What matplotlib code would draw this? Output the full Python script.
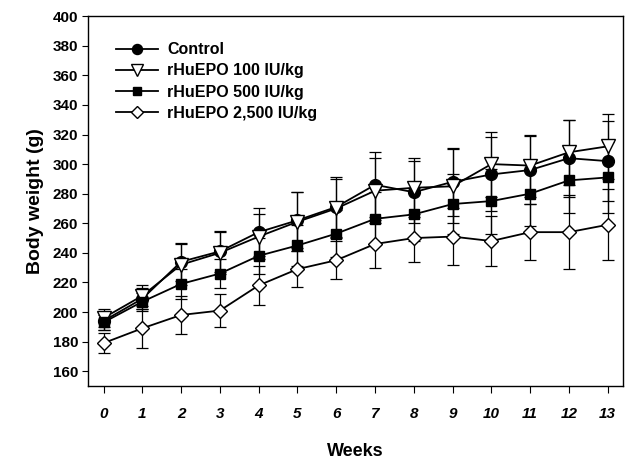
import matplotlib

matplotlib.use("Agg")
import matplotlib.pyplot as plt

plt.rcParams["font.family"] = ["Liberation Sans", "DejaVu Sans"]

weeks = list(range(14))

control = [194, 209, 234, 241, 254, 262, 271, 286, 281, 288, 293, 296, 304, 302]
control_sd = [6, 7, 13, 14, 16, 19, 20, 22, 21, 23, 25, 23, 26, 27]

epo100 = [196, 211, 232, 240, 251, 261, 270, 282, 284, 285, 300, 299, 308, 312]
epo100_sd = [6, 7, 14, 14, 15, 20, 20, 22, 20, 25, 22, 21, 22, 22]

epo500 = [193, 207, 219, 226, 238, 245, 253, 263, 266, 273, 275, 280, 289, 291]
epo500_sd = [5, 6, 10, 10, 12, 14, 16, 18, 18, 20, 22, 22, 22, 24]

epo2500 = [179, 189, 198, 201, 218, 229, 235, 246, 250, 251, 248, 254, 254, 259]
epo2500_sd = [7, 13, 13, 11, 13, 12, 13, 16, 16, 19, 17, 19, 25, 24]

labels = ["Control", "rHuEPO 100 IU/kg", "rHuEPO 500 IU/kg", "rHuEPO 2,500 IU/kg"]

fig = plt.figure(figsize=(6.26, 4.62), dpi=100)
ax = fig.add_axes([0.1406, 0.1645, 0.855, 0.8005])

series = [
    (control, control_sd, "o", "black", 8.5),
    (epo100, epo100_sd, "v", "white", 9.5),
    (epo500, epo500_sd, "s", "black", 7.5),
    (epo2500, epo2500_sd, "D", "white", 7.5),
]

for (vals, sd, mk, fc, ms), lab in zip(series, labels):
    ax.errorbar(
        weeks, vals, yerr=sd,
        fmt="none", ecolor="black", elinewidth=0.9, capsize=4, capthick=0.9,
        zorder=2,
    )
    ax.plot(
        weeks, vals,
        color="black", linewidth=1.3, marker=mk, markersize=ms,
        markerfacecolor=fc, markeredgecolor="black", markeredgewidth=1.0,
        label=lab, zorder=3,
    )

ax.set_xlim(-0.4, 13.4)
ax.set_ylim(150, 400)
ax.set_xticks(weeks)
ax.set_yticks(range(160, 401, 20))
ax.tick_params(axis="x", direction="out", length=5, pad=10, labelsize=11)
ax.tick_params(axis="y", direction="out", length=4, pad=3, labelsize=11)
for t in ax.get_xticklabels():
    t.set_fontweight("bold")
    t.set_fontstyle("italic")
for t in ax.get_yticklabels():
    t.set_fontweight("bold")

for s in ax.spines.values():
    s.set_linewidth(1.0)

ax.set_xlabel("Weeks", fontsize=13, fontweight="bold", labelpad=16)
ax.set_ylabel("Body weight (g)", fontsize=14, fontweight="bold", labelpad=6)

ax.legend(
    loc="upper left", bbox_to_anchor=(0.035, 0.955), frameon=False,
    prop={"weight": "bold", "size": 11.5}, handlelength=2.6,
    labelspacing=0.38, handletextpad=0.6, borderaxespad=0.2,
    markerscale=0.85,
)

fig.savefig("out.png", dpi=100)
